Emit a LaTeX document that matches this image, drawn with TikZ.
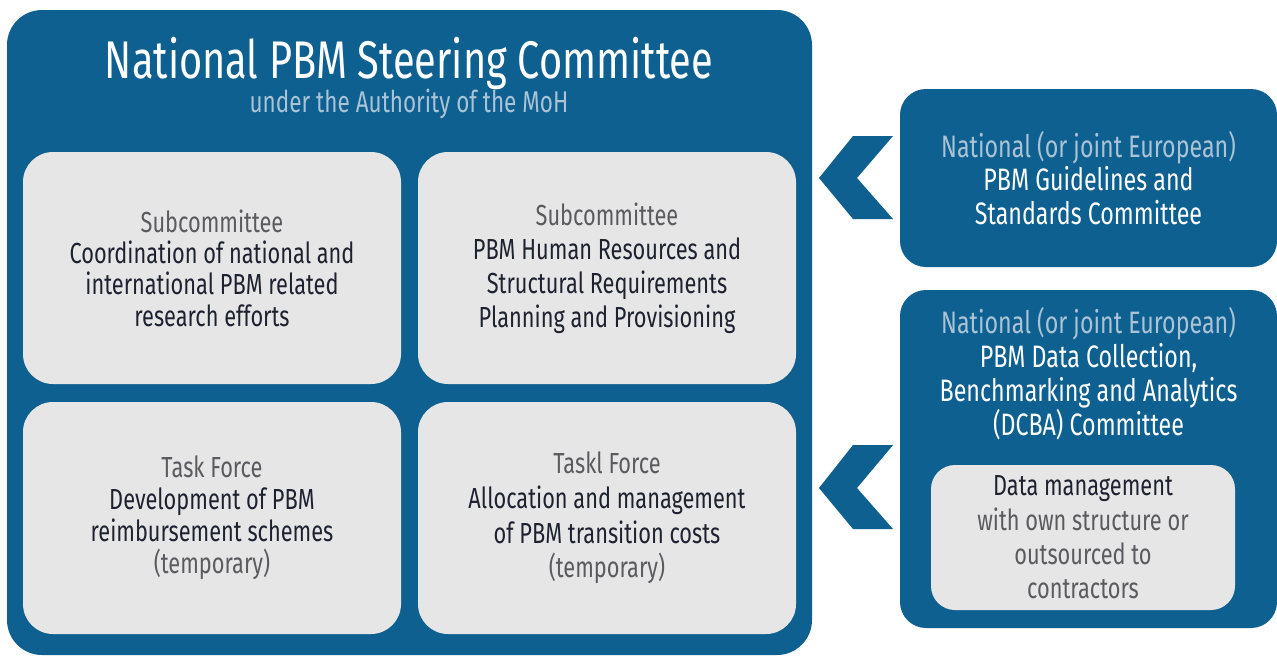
\documentclass[tikz,border=0pt]{standalone}
\usepackage{fontspec}
\setmainfont{Fira Sans}[FakeStretch=0.75]
\usetikzlibrary{positioning}
\definecolor{pbmblue}{RGB}{14,96,144}
\definecolor{pbmgrey}{RGB}{230,230,230}
\definecolor{pbmdark}{RGB}{30,34,48}
\definecolor{pbmmid}{RGB}{90,90,95}
\definecolor{pbmlight}{RGB}{170,195,214}
\tikzset{
  bigbox/.style={fill=pbmblue, draw=none, rounded corners=35pt},
  greybox/.style={fill=pbmgrey, draw=none, rounded corners=30pt, minimum width=378pt, minimum height=232pt, align=center, inner sep=0pt, text=pbmdark},
  sidebox/.style={fill=pbmblue, draw=none, rounded corners=26pt, minimum width=377pt, align=center, inner sep=0pt},
  chev/.style={fill=pbmblue, draw=none},
}
\newcommand{\lbl}[1]{{\color{pbmmid}#1}}
\begin{document}
\begin{tikzpicture}[x=1pt,y=-1pt]
\useasboundingbox (0,0) rectangle (1277,657);
\fill[white] (0,0) rectangle (1277,657);
% main committee
\node[bigbox, minimum width=805pt, minimum height=645pt, inner sep=0pt] (main) at (409.5,332.5) {};
\node[font=\fontsize{53}{57}\selectfont, text=white] (title) at (409,63) {National PBM Steering Committee};
\node[font=\fontsize{30}{34}\selectfont, text=pbmlight] (subtitle) at (409,104) {under the Authority of the MoH};
% inner boxes
\node[greybox, font=\fontsize{29}{31.3}\selectfont] (sc1) at (212,268) {\lbl{Subcommittee}\\Coordination of national and\\international PBM related\\research efforts};
\node[greybox, font=\fontsize{29}{34}\selectfont] (sc2) at (607,268) {\lbl{Subcommittee}\\PBM Human Resources and\\Structural Requirements\\Planning and Provisioning};
\node[greybox, font=\fontsize{29}{32}\selectfont] (tf1) at (212,518) {\lbl{Task Force}\\Development of PBM\\reimbursement schemes\\\lbl{(temporary)}};
\node[greybox, font=\fontsize{29}{34.7}\selectfont] (tf2) at (607,518) {\lbl{Taskl Force}\\Allocation and management\\of PBM transition costs\\\lbl{(temporary)}};
% side committees
\node[sidebox, minimum height=178pt, font=\fontsize{31}{33.5}\selectfont, text=white] (gsc) at (1088.5,178) {{\color{pbmlight}National (or joint European)}\\PBM Guidelines and\\Standards Committee};
\node[sidebox, minimum height=338pt] (dcba) at (1088.5,459) {};
\node[font=\fontsize{31}{34}\selectfont, text=white, align=center] (dcbatext) at (1088.5,374) {{\color{pbmlight}National (or joint European)}\\PBM Data Collection,\\Benchmarking and Analytics\\(DCBA) Committee};
\node[fill=pbmgrey, rounded corners=24pt, minimum width=304pt, minimum height=145pt, inner sep=0pt, align=center, font=\fontsize{29}{34.3}\selectfont, text=pbmdark] (dm) at (1083,537.5) {Data management\\\lbl{with own structure or}\\\lbl{outsourced to}\\\lbl{contractors}};
% chevrons
\fill[chev] (893,136) -- (853,136) -- (819,178) -- (853,219) -- (893,219) -- (857,178) -- cycle;
\fill[chev] (893,445) -- (853,445) -- (819,488) -- (853,529) -- (893,529) -- (857,488) -- cycle;
\end{tikzpicture}
\end{document}
